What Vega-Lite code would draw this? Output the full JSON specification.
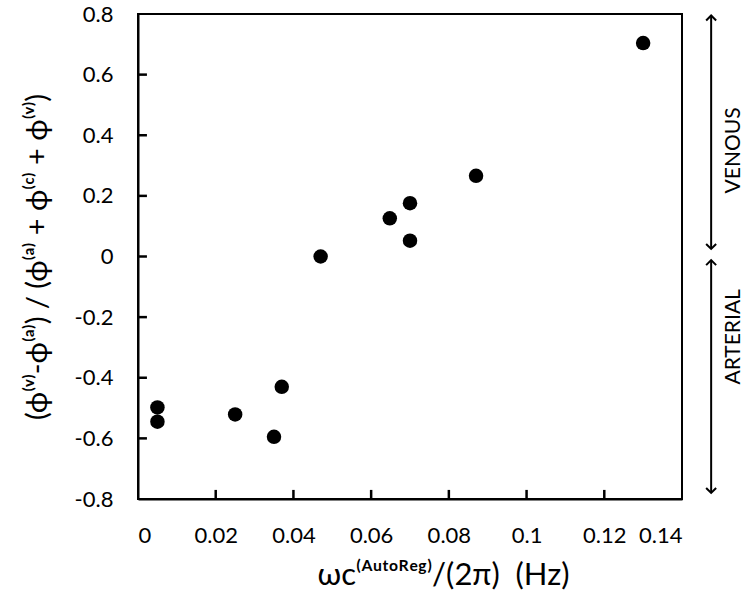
{
  "$schema": "https://vega.github.io/schema/vega-lite/v6.json",
  "width": 544,
  "height": 485,
  "autosize": {"type": "none"},
  "padding": {"left": 138, "top": 14, "right": 68, "bottom": 112},
  "background": "white",
  "config": {
    "view": {"stroke": "black", "strokeWidth": 2},
    "font": "Lato",
    "axis": {
      "grid": false,
      "zindex": 1,
      "domainColor": "black",
      "domainWidth": 2,
      "tickColor": "black",
      "labelFont": "Lato",
      "labelFontSize": 22,
      "labelColor": "black",
      "titleFont": "Lato",
      "titleFontWeight": "normal",
      "titleColor": "black"
    }
  },
  "datasets": {
    "pts": [
      {"f": 0.005, "r": -0.498},
      {"f": 0.005, "r": -0.545},
      {"f": 0.025, "r": -0.521},
      {"f": 0.035, "r": -0.595},
      {"f": 0.037, "r": -0.43},
      {"f": 0.047, "r": 0.0},
      {"f": 0.0648, "r": 0.126},
      {"f": 0.07, "r": 0.176},
      {"f": 0.07, "r": 0.052},
      {"f": 0.087, "r": 0.266},
      {"f": 0.13, "r": 0.704}
    ],
    "xticks": [
      {"v": 0.02}, {"v": 0.04}, {"v": 0.06}, {"v": 0.08}, {"v": 0.1}, {"v": 0.12}
    ],
    "yticks": [
      {"v": -0.6}, {"v": -0.4}, {"v": -0.2}, {"v": 0}, {"v": 0.2}, {"v": 0.4}, {"v": 0.6}
    ],
    "arrows": [
      {"x": 0.1475, "top": 0.795, "bottom": 0.025},
      {"x": 0.1475, "top": -0.012, "bottom": -0.78}
    ],
    "heads": [
      {"x": 0.1475, "y": 0.795, "shape": "M-1,1L0,0L1,1"},
      {"x": 0.1475, "y": 0.025, "shape": "M-1,-1L0,0L1,-1"},
      {"x": 0.1475, "y": -0.012, "shape": "M-1,1L0,0L1,1"},
      {"x": 0.1475, "y": -0.78, "shape": "M-1,-1L0,0L1,-1"}
    ],
    "labels": [
      {"x": 0.1535, "y": 0.35, "t": "VENOUS"},
      {"x": 0.1535, "y": -0.265, "t": "ARTERIAL"}
    ]
  },
  "layer": [
    {
      "data": {"name": "pts"},
      "mark": {"type": "circle", "size": 210, "color": "black", "opacity": 1},
      "encoding": {
        "x": {
          "field": "f", "type": "quantitative",
          "scale": {"domain": [0, 0.14], "nice": false, "zero": false},
          "axis": {
            "orient": "bottom",
            "values": [0, 0.02, 0.04, 0.06, 0.08, 0.1, 0.12, 0.14],
            "labelExpr": "format(datum.value, '.2~f')",
            "ticks": false,
            "labelPadding": 26,
            "title": "ωc⁽ᴬᵘᵗᵒᴿᵉᵍ⁾/(2π)\u00a0\u00a0(Hz)",
            "titleFontSize": 31,
            "titlePadding": 14,
            "titleX": 305,
            "titleAlign": "center"
          }
        },
        "y": {
          "field": "r", "type": "quantitative",
          "scale": {"domain": [-0.8, 0.8], "nice": false, "zero": false},
          "axis": {
            "orient": "left",
            "values": [-0.8, -0.6, -0.4, -0.2, 0, 0.2, 0.4, 0.6, 0.8],
            "labelExpr": "replace(format(datum.value, '.1~f'), '−', '-')",
            "ticks": false,
            "labelPadding": 25,
            "title": "(ϕ⁽ᵛ⁾-ϕ⁽ᵃ⁾) / (ϕ⁽ᵃ⁾ + ϕ⁽ᶜ⁾ + ϕ⁽ᵛ⁾)",
            "titleFontSize": 29,
            "titlePadding": 22
          }
        }
      }
    },
    {
      "data": {"name": "xticks"},
      "mark": {"type": "rule", "color": "black", "strokeWidth": 2.5},
      "encoding": {
        "x": {"field": "v", "type": "quantitative"},
        "y": {"datum": -0.8, "type": "quantitative"},
        "y2": {"datum": -0.77}
      }
    },
    {
      "data": {"name": "yticks"},
      "mark": {"type": "rule", "color": "black", "strokeWidth": 2.5},
      "encoding": {
        "y": {"field": "v", "type": "quantitative"},
        "x": {"datum": 0, "type": "quantitative"},
        "x2": {"datum": 0.0023}
      }
    },
    {
      "data": {"name": "arrows"},
      "mark": {"type": "rule", "color": "black", "strokeWidth": 2, "clip": false},
      "encoding": {
        "x": {"field": "x", "type": "quantitative"},
        "y": {"field": "top", "type": "quantitative"},
        "y2": {"field": "bottom"}
      }
    },
    {
      "data": {"name": "heads"},
      "mark": {"type": "point", "filled": false, "stroke": "black", "strokeWidth": 2, "size": 100, "opacity": 1, "clip": false},
      "encoding": {
        "x": {"field": "x", "type": "quantitative"},
        "y": {"field": "y", "type": "quantitative"},
        "shape": {"field": "shape", "type": "nominal", "scale": null}
      }
    },
    {
      "data": {"name": "labels"},
      "mark": {"type": "text", "angle": 270, "fontSize": 21, "font": "Lato", "color": "black", "align": "center", "baseline": "middle", "clip": false},
      "encoding": {
        "x": {"field": "x", "type": "quantitative"},
        "y": {"field": "y", "type": "quantitative"},
        "text": {"field": "t"}
      }
    }
  ]
}
